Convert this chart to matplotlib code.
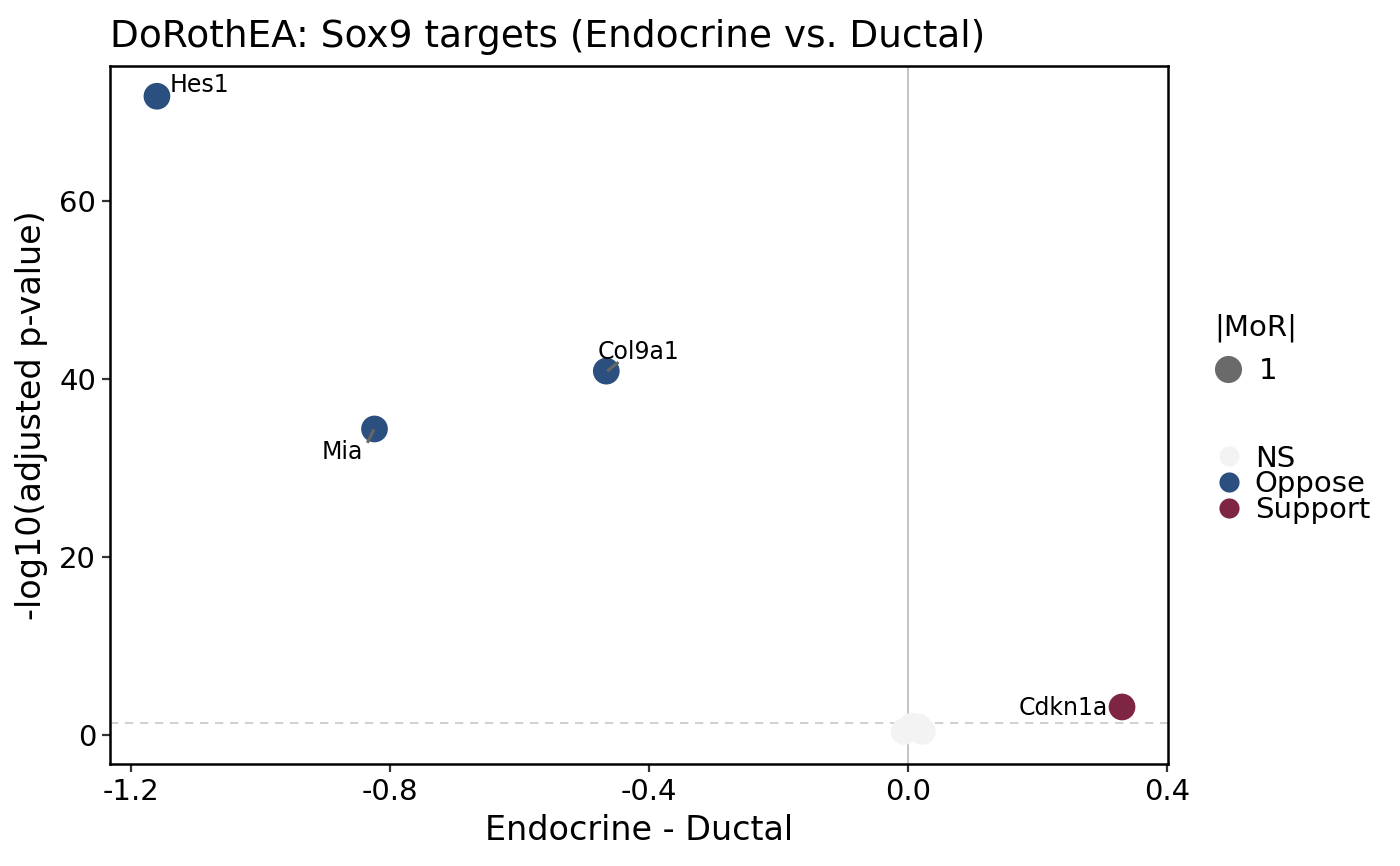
import matplotlib
matplotlib.use('Agg')
import matplotlib.pyplot as plt
from matplotlib.lines import Line2D

# target genes
genes   = ["Hes1", "Mia", "Col9a1", "Cdkn1a", "", "", "", ""]
logfc   = [-1.160, -0.824, -0.466, 0.3305, -0.006, 0.006, 0.016, 0.022]
neglogp = [71.8, 34.4, 40.9, 3.15, 0.4, 1.0, 0.9, 0.4]
status  = ["Oppose", "Oppose", "Oppose", "Support", "NS", "NS", "NS", "NS"]

# label positions (data units) like ggrepel
label_pos = {
    "Hes1":   (-1.140, 73.1, 'left'),
    "Mia":    (-0.873, 31.8, 'center'),
    "Col9a1": (-0.417, 43.1, 'center'),
    "Cdkn1a": (0.309, 3.0, 'right'),
}

colors = {"NS": "#F3F3F3", "Oppose": "#24497A", "Support": "#7A1E3E"}
x_ticks = [-1.2, -0.8, -0.4, 0.0, 0.4]
y_ticks = [0, 20, 40, 60]

fig = plt.figure(figsize=(14, 8.66), dpi=100)
ax = fig.add_axes([110 / 1400, 1 - 764 / 866, 1058 / 1400, 698 / 866])

ax.axvline(0, color='#BEBEBE', lw=1.3, zorder=1)
ax.axhline(1.3, color='#C8C8C8', lw=1.2, ls=(0, (5, 4)), zorder=1)

for g, x, y, s in zip(genes, logfc, neglogp, status):
    ax.scatter(x, y, s=370, color=colors[s], alpha=0.97, edgecolors='none', zorder=3)

for g, x, y in zip(genes, logfc, neglogp):
    if g in label_pos:
        lx, ly, ha = label_pos[g]
        ax.text(lx, ly, g, ha=ha, va='center', fontsize=17, zorder=4)

# short repel segments
ax.plot([-0.826, -0.834], [34.2, 33.0], color='#666666', lw=2.2, zorder=4)
ax.plot([-0.463, -0.449], [41.0, 41.8], color='#666666', lw=2.2, zorder=4)

ax.set_xlim(-1.2325, 0.4015)
ax.set_ylim(-3.26, 75.2)
ax.set_xticks(x_ticks)
ax.set_xticklabels([f"{t:.1f}" for t in x_ticks])
ax.set_yticks(y_ticks)
ax.tick_params(labelsize=21, length=6, width=1.6, color='#333333', pad=4)
for sp in ax.spines.values():
    sp.set_linewidth(1.8)

ax.set_xlabel("Endocrine - Ductal", fontsize=24, labelpad=6)
ax.set_ylabel("-log10(adjusted p-value)", fontsize=24, labelpad=8)
ax.set_title("DoRothEA: Sox9 targets (Endocrine vs. Ductal)", fontsize=27, loc='left', pad=14)

size_handle = [Line2D([], [], marker='o', ls='', markersize=19.5, color='#555555',
                      alpha=0.88, markeredgewidth=0)]
leg1 = fig.legend(size_handle, ["1"], title="|MoR|", loc='upper left',
                  bbox_to_anchor=(1203 / 1400, 1 - 302 / 866), frameon=False,
                  fontsize=21, title_fontsize=21, handletextpad=0.62, borderaxespad=0,
                  handlelength=0.9)
leg1._legend_box.align = "left"

cat_handles = [Line2D([], [], marker='o', ls='', markersize=14.5, color=colors[k],
                      alpha=0.97, markeredgewidth=0) for k in ["NS", "Oppose", "Support"]]
fig.legend(cat_handles, ["NS", "Oppose", "Support"], loc='upper left',
           bbox_to_anchor=(1198 / 1400, 1 - 433 / 866), frameon=False,
           fontsize=21, handletextpad=0.2, labelspacing=-0.08, borderaxespad=0,
           handlelength=1.35)

fig.savefig("out.png", dpi=100)
